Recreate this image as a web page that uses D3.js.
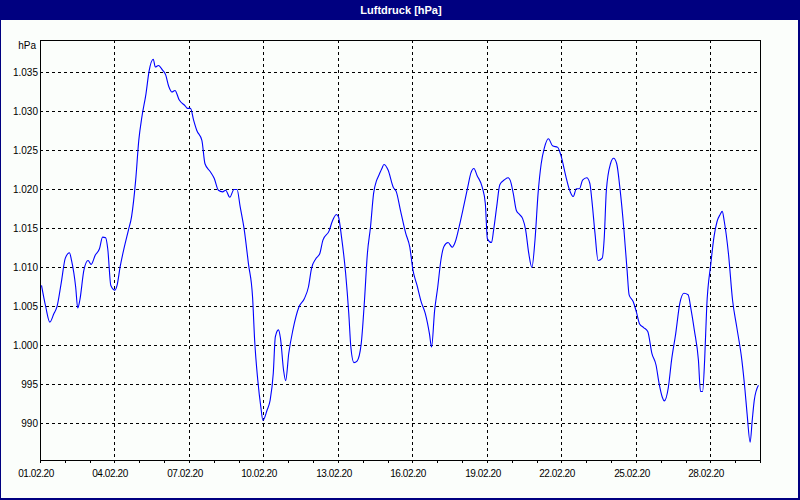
<!DOCTYPE html>
<html><head><meta charset="utf-8">
<script src="https://cdn.jsdelivr.net/npm/d3@7"></script>
<style>
html,body{margin:0;padding:0;background:#fbfefb;}
svg{display:block;}
text{font-family:"Liberation Sans",Arial,sans-serif;}
</style></head>
<body><svg id="c" width="800" height="500"></svg>
<script>
const title = "Luftdruck [hPa]";
const unitLabel = "hPa";
const startDate = "2020-02-01";
const endDate = "2020-03-01";
const xTickLabels = ["01.02.20","04.02.20","07.02.20","10.02.20","13.02.20","16.02.20","19.02.20","22.02.20","25.02.20","28.02.20"];
const yTicks = [990,995,1000,1005,1010,1015,1020,1025,1030,1035];
const yDomain = [985.256, 1039.103];
// hours since 01.02.20 00:00
const hours = [1,5,9,13,16,20,24,28,30,34,36,38,42,46,49,53,57,60,63,65,68,72,74,77,81,85,88,92,95,98,102,105,109,111,114,118,121,124,127,130,134,140,142,145,148,151,156,159,164,168,172,176,179,183,187,190,193,197,201,205,207,210,213,215,219,222,225,227,230,232,235,237,240,244,250,255,259,262,266,270,273,279,282,286,288,291,295,298,300,303,306,310,313,316,319,322,325,327,330,332,336,341,344,348,353,357,360,364,368,372,376,378,381,384,387,390,394,398,401,405,409,413,416,419,422,427,430,432,436,438,441,444,449,452,454,457,460,463,466,469,472,475,478,481,484,487,491,495,500,503,508,511,515,518,521,524,528,531,533,536,539,543,545,547,551,554,557,560,564,567,569,573,576,579,583,587,591,595,598,601,603,607,610,614,618,622,626,629,632,636,638,640,642,644,648,651,654,657,659,661,665,669,673,678,681,683,686,688,690,694];
const pressure = [1007.7,1005.0,1003.0,1004.1,1005.0,1008.0,1011.2,1011.9,1010.9,1007.5,1004.8,1005.8,1009.7,1010.9,1010.4,1011.6,1012.4,1013.9,1013.8,1012.4,1007.7,1007.1,1007.7,1010.1,1012.6,1014.8,1016.5,1021.2,1026.3,1029.3,1032.3,1035.2,1036.7,1035.7,1035.9,1035.3,1034.7,1033.2,1032.5,1032.7,1031.5,1030.7,1030.4,1030.4,1028.9,1027.6,1026.3,1023.3,1022.3,1021.4,1019.9,1019.7,1019.9,1019.0,1020.0,1020.0,1017.8,1014.8,1010.5,1006.2,1000.7,995.6,992.1,990.4,991.7,993.0,996.4,1001.1,1002.0,1000.9,996.8,995.5,999.0,1002.0,1005.0,1006.0,1007.5,1009.9,1011.1,1011.8,1013.5,1014.7,1015.9,1016.8,1016.5,1013.9,1009.2,1004.1,999.8,997.8,998.0,1000.2,1005.4,1011.8,1015.2,1019.5,1021.2,1021.8,1022.7,1023.2,1022.5,1020.3,1019.7,1017.3,1014.4,1012.6,1009.7,1007.7,1005.6,1004.1,1001.5,999.8,1004.5,1007.5,1010.9,1012.7,1013.2,1012.6,1013.3,1015.4,1017.8,1020.3,1022.1,1022.7,1021.8,1020.3,1018.2,1013.7,1013.2,1014.8,1017.8,1020.6,1021.3,1021.5,1021.2,1019.5,1017.3,1016.8,1016.3,1014.8,1011.8,1010.0,1013.5,1019.5,1023.3,1025.3,1026.5,1025.6,1025.4,1024.4,1021.6,1020.1,1019.1,1020.1,1020.1,1021.2,1021.5,1020.8,1018.6,1014.4,1010.9,1011.2,1013.9,1019.9,1023.3,1024.0,1023.3,1020.3,1014.8,1009.7,1006.5,1005.6,1004.3,1002.8,1002.3,1001.8,999.0,997.5,995.1,993.4,992.9,994.7,998.1,1001.5,1005.4,1006.7,1006.5,1004.5,1002.0,998.1,994.1,994.1,998.1,1004.9,1010.5,1013.9,1015.9,1016.8,1017.2,1015.9,1011.8,1005.8,1002.4,998.1,994.3,991.3,987.6,990.4,993.0,994.9];

const W = 800, H = 500;
const plot = {left: 40, right: 760, top: 40, bottom: 460};
const svg = d3.select("#c");
const parseDay = d3.timeParse("%Y-%m-%d");
const parseLbl = d3.timeParse("%d.%m.%y");
const t0 = parseDay(startDate), t1 = parseDay(endDate);

const x = d3.scaleTime().domain([t0, t1]).range([plot.left, plot.right]);
const y = d3.scaleLinear().domain(yDomain).range([plot.bottom + 0.5, plot.top + 0.5]);
const locale = d3.formatLocale({decimal: ",", thousands: ".", grouping: [3], currency: ["", " €"]});
const fmt = locale.format(",d");
const px = v => Math.round(v) + 0.5;

// background + frame
svg.append("rect").attr("x",0).attr("y",0).attr("width",W).attr("height",H).attr("fill","#fbfefb");
svg.append("rect").attr("x",0).attr("y",0).attr("width",W).attr("height",20).attr("fill","#000080");
svg.append("rect").attr("x",0.5).attr("y",0.5).attr("width",W-2).attr("height",H-2)
  .attr("fill","none").attr("stroke","#000080").attr("stroke-width",1);
svg.append("line").attr("x1",W-0.5).attr("x2",W-0.5).attr("y1",0).attr("y2",H).attr("stroke","#000080");
svg.append("line").attr("x1",0).attr("x2",W).attr("y1",H-0.5).attr("y2",H-0.5).attr("stroke","#000080");

svg.append("text").attr("x",401).attr("y",14).attr("text-anchor","middle")
  .attr("fill","#ffffff").attr("font-weight","bold").attr("font-size","11px").text(title);

const g = svg.append("g").attr("shape-rendering","crispEdges");

// horizontal grid
g.selectAll("line.hg").data(yTicks).join("line").attr("class","hg")
  .attr("x1",plot.left).attr("x2",plot.right)
  .attr("y1",d=>Math.floor(y(d))+0.5).attr("y2",d=>Math.floor(y(d))+0.5)
  .attr("stroke","#000").attr("stroke-dasharray","3,3");

// vertical grid
const xTickDates = xTickLabels.map(parseLbl);
g.selectAll("line.vg").data(xTickDates.slice(1)).join("line").attr("class","vg")
  .attr("x1",d=>px(x(d))).attr("x2",d=>px(x(d)))
  .attr("y1",plot.top).attr("y2",plot.bottom)
  .attr("stroke","#000").attr("stroke-dasharray","3,3");

// day ticks
const days = d3.timeDay.range(t0, d3.timeDay.offset(t1,1));
g.selectAll("line.dt").data(days).join("line").attr("class","dt")
  .attr("x1",d=>px(x(d))).attr("x2",d=>px(x(d)))
  .attr("y1",plot.bottom).attr("y2",plot.bottom+3)
  .attr("stroke","#000");

// frame of plot
g.append("rect").attr("x",plot.left+0.5).attr("y",plot.top+0.5)
  .attr("width",plot.right-plot.left).attr("height",plot.bottom-plot.top)
  .attr("fill","none").attr("stroke","#000");

// y labels
svg.selectAll("text.yl").data(yTicks).join("text").attr("class","yl")
  .attr("x",38).attr("y",d=>Math.floor(y(d))+0.5).attr("dy","0.36em")
  .attr("text-anchor","end").attr("font-size","10px").attr("fill","#000")
  .text(d=>fmt(d));
svg.append("text").attr("x",36).attr("y",45).attr("dy","0.36em").attr("text-anchor","end")
  .attr("font-size","10px").attr("fill","#000").text(unitLabel);

// x labels
svg.selectAll("text.xl").data(xTickLabels).join("text").attr("class","xl")
  .attr("x",(d,i)=>Math.round(x(xTickDates[i]))-4).attr("y",477)
  .attr("text-anchor","middle").attr("font-size","10px").attr("letter-spacing","-0.4px")
  .attr("fill","#000").text(d=>d);

// line
const data = hours.map((h,i)=>({t:d3.timeHour.offset(t0,h), v:pressure[i]}));
const line = d3.line().x(d=>x(d.t)+0.5).y(d=>y(d.v)).curve(d3.curveMonotoneX);
svg.append("path").datum(data).attr("d",line).attr("fill","none")
  .attr("stroke","#0000ff").attr("stroke-width",1.1);
</script></body></html>
